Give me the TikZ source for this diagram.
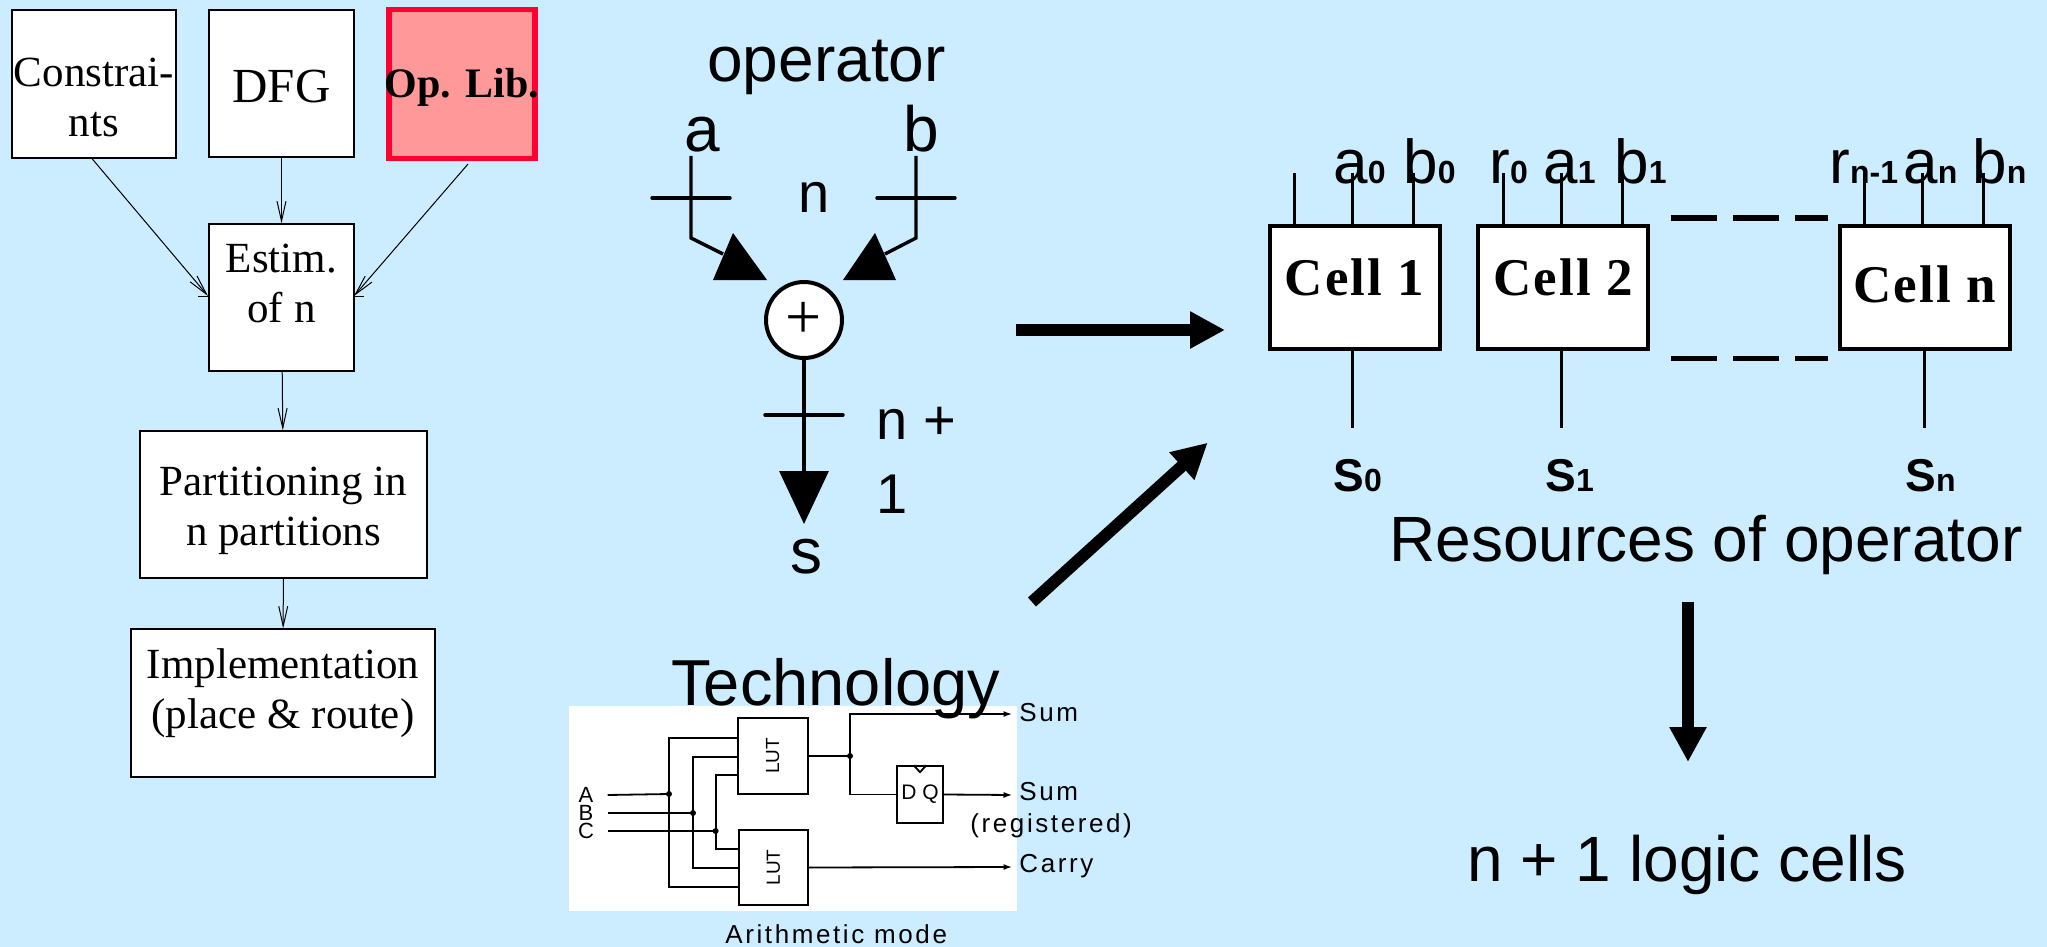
\documentclass[tikz,border=0pt]{standalone}
\usepackage{fontspec}
\usetikzlibrary{arrows.meta}
\setmainfont{Liberation Sans}
\newfontfamily\boxfont{Liberation Serif}
\newfontfamily\cellfont[LetterSpace=4]{Liberation Serif}
\newfontfamily\bookfont[LetterSpace=10]{Liberation Sans}
\definecolor{slidebg}{HTML}{CCECFF}
\definecolor{libred}{HTML}{FF0033}
\definecolor{libfill}{HTML}{FF9999}
\newcommand{\pinname}[2]{{\fontsize{31}{31}\selectfont #1}{\fontsize{16}{16}\selectfont\bfseries #2}}
\newcommand{\outname}[2]{{\fontsize{23}{24}\selectfont\bfseries #1}{\fontsize{16}{16}\selectfont\bfseries #2}}

\begin{document}
\begin{tikzpicture}[x=0.5pt,y=-0.5pt,>={Straight Barb[length=10pt,width=4.5pt]},
        flowbox/.style={draw,fill=white,line width=0.6pt,inner sep=0pt,align=center,
          font=\boxfont\fontsize{21.5}{25}\selectfont},
        cellbox/.style={draw,fill=white,line width=2pt,inner sep=0pt,align=center,
          minimum width=85pt,minimum height=61.5pt,
          font=\cellfont\bfseries\fontsize{26.5}{30}\selectfont},
        logicbox/.style={draw,line width=0.9pt,inner sep=0pt,font=\fontsize{9.5}{11}\selectfont},
        heading/.style={anchor=base west,inner sep=0pt,font=\fontsize{32}{38}\selectfont},
        pintext/.style={anchor=base west,inner sep=0pt},
        booktext/.style={anchor=base west,inner sep=0pt,font=\bookfont\fontsize{13}{15}\selectfont},
        flow/.style={->,line width=0.5pt},
        wire/.style={line width=1.7pt},
        pin/.style={line width=1.5pt},
        fine/.style={line width=0.9pt},
        fineout/.style={fine,-{Latex[length=4.5pt,width=3pt]}},
        fat/.style={line width=6pt,-{Triangle[length=17.5pt,width=17.5pt]}},
        gap/.style={line width=2.5pt,dash pattern=on 23pt off 8pt}]

  \fill[slidebg,use as bounding box] (0,0) rectangle (2047,947);

  \node[flowbox,minimum width=82pt,minimum height=74pt] (constraints) at (94,84) {Constrai-\\nts\\[-38pt]};
  \node[flowbox,minimum width=72.5pt,minimum height=73.5pt] (dfg) at (281.5,83.5) {\fontsize{24.5}{25}\selectfont DFG\\[-28pt]};
  \node[flowbox,draw=libred,fill=libfill,line width=2.75pt,minimum width=73pt,minimum height=74.3pt,
        font=\boxfont\bfseries\fontsize{21}{25}\selectfont] (oplib) at (462,84) {\makebox[0pt]{Op. Lib.}\\[-24pt]};
  \node[flowbox,minimum width=72.5pt,minimum height=73.5pt] (estim) at (281.5,297.5) {Estim.\\of n\\[-10.5pt]};
  \node[flowbox,minimum width=143.5pt,minimum height=73.5pt] (partition) at (283.5,504.5) {Partitioning in\\n partitions\\[-26.5pt]};
  \node[flowbox,minimum width=152pt,minimum height=74pt] (impl) at (283,703) {Implementation\\(place \& route)\\[-10.5pt]};

  \coordinate (estim_left) at (208,296);
  \coordinate (estim_right) at (354,296);
  \draw[flow] (constraints.south) ++(-1pt,0) -- (estim_left);
  \draw[flow] (dfg) -- (estim);
  \draw[flow] (oplib.south) ++(3pt,-1.5pt) -- (estim_right);
  \draw[flow] (estim) -- (partition);
  \draw[flow] (partition) -- (impl);
  \draw[line width=0.5pt] (estim_left) -- ++(-10,0);
  \draw[line width=0.5pt] (estim_right) -- ++(10,0);

  \node[heading] (op_title) at (707,82) {operator};
  \node[heading] (in_a) at (684,152) {a};
  \node[heading] (in_b) at (903,152) {b};
  \node[heading] (out_s) at (790,573) {s};
  \node[pintext,font=\fontsize{28}{37}\selectfont] (width_in) at (798,213) {n};
  \node[anchor=west,inner sep=0pt,align=left,font=\fontsize{28}{37}\selectfont] (width_out) at (876,460) {n +\\1};

  \node[draw,circle,fill=white,line width=2pt,inner sep=0pt,minimum size=38pt,
        font=\boxfont\fontsize{32}{32}\selectfont] (add) at (804,320) {+};

  \coordinate (a_top) at (691,156);
  \coordinate (a_bend) at (691,238);
  \coordinate (a_end) at (723,254);
  \coordinate (a_cross) at (691,198);
  \coordinate (b_top) at (916,156);
  \coordinate (b_bend) at (916,238);
  \coordinate (b_end) at (885,254);
  \coordinate (b_cross) at (916,198);
  \coordinate (s_cross) at (804,415);
  \coordinate (s_tip) at (804,524);

  \draw[wire] (a_top) -- (a_bend) -- (a_end);
  \draw[wire] (b_top) -- (b_bend) -- (b_end);
  \fill (733,233) -- (713,280) -- (767,280) -- cycle;
  \fill (875,233) -- (843,280) -- (896,280) -- cycle;
  \draw[wire,-{Triangle[length=26.5pt,width=24.5pt]}] (add.south) -- (s_tip);
  \draw[wire,line cap=round] ([xshift=-19.5pt]a_cross) -- ([xshift=19.5pt]a_cross);
  \draw[wire,line cap=round] ([xshift=-19.5pt]b_cross) -- ([xshift=19.5pt]b_cross);
  \draw[wire,line cap=round] ([xshift=-19.5pt]s_cross) -- ([xshift=19.5pt]s_cross);

  \coordinate (op_from) at (1016,330);
  \coordinate (op_to) at (1225,330);
  \coordinate (tech_from) at (1032,602);
  \coordinate (tech_to) at (1207.7,442.7);
  \coordinate (res_from) at (1688,602);
  \coordinate (res_to) at (1688,762);
  \draw[fat] (op_from) -- (op_to);
  \draw[fat] (tech_from) -- (tech_to);
  \draw[fat] (res_from) -- (res_to);

  \node[cellbox] (cell_1) at (1354.5,287) {Cell 1\\[-20pt]};
  \node[cellbox] (cell_2) at (1563,287) {Cell 2\\[-20pt]};
  \node[cellbox] (cell_n) at (1924.5,287) {Cell n\\[-27pt]};

  \draw[pin] ([xshift=-30pt]cell_1.north) -- ++(0,-50);
  \draw[pin] ([xshift=-1pt]cell_1.north) -- ++(0,-50);
  \draw[pin] ([xshift=29.5pt]cell_1.north) -- ++(0,-50);
  \draw[pin] ([xshift=-30pt]cell_2.north) -- ++(0,-50);
  \draw[pin] ([xshift=-1pt]cell_2.north) -- ++(0,-50);
  \draw[pin] ([xshift=29.5pt]cell_2.north) -- ++(0,-50);
  \draw[pin] ([xshift=-30pt]cell_n.north) -- ++(0,-50);
  \draw[pin] ([xshift=-1pt]cell_n.north) -- ++(0,-50);
  \draw[pin] ([xshift=29.5pt]cell_n.north) -- ++(0,-50);
  \draw[pin] ([xshift=-1pt]cell_1.south) -- ++(0,77);
  \draw[pin] ([xshift=-1pt]cell_2.south) -- ++(0,77);
  \draw[pin] (cell_n.south) -- ++(0,77);

  \coordinate (gap_top) at (1671,218);
  \coordinate (gap_top_end) at (1828,218);
  \coordinate (gap_bot) at (1671,358.5);
  \coordinate (gap_bot_end) at (1828,358.5);
  \draw[gap] (gap_top) -- (gap_top_end);
  \draw[gap] (gap_bot) -- (gap_bot_end);

  \node[pintext] (a_0) at (1333,184) {\pinname{a}{0}};
  \node[pintext] (b_0) at (1403,184) {\pinname{b}{0}};
  \node[pintext] (r_0) at (1489,184) {\pinname{r}{0}};
  \node[pintext] (a_1) at (1543,184) {\pinname{a}{1}};
  \node[pintext] (b_1) at (1614,184) {\pinname{b}{1}};
  \node[pintext] (r_n) at (1829,184) {\pinname{r}{n-1}};
  \node[pintext] (a_n) at (1903,184) {\pinname{a}{n}};
  \node[pintext] (b_n) at (1972,184) {\pinname{b}{n}};
  \node[pintext] (s_0) at (1333,491) {\outname{S}{0}};
  \node[pintext] (s_1) at (1545,491) {\outname{S}{1}};
  \node[pintext] (s_n) at (1905,491) {\outname{S}{n}};

  \node[heading] (res_title) at (1389,561) {Resources of operator};
  \node[heading] (result) at (1467,881) {n + 1 logic cells};

  \node[fill=white,inner sep=0pt,minimum width=223.75pt,minimum height=102.5pt] (tech_img) at (792.75,808.5) {};
  \node[heading,font=\fontsize{32.5}{38}\selectfont] (tech_title) at (671,705) {Technology};

  \node[logicbox,minimum width=35pt,minimum height=38pt] (lut_1) at (772.7,756) {\rotatebox{90}{LUT}};
  \node[logicbox,minimum width=34.5pt,minimum height=37.5pt] (lut_2) at (773.5,867.5) {\rotatebox{90}{LUT}};
  \node[logicbox,minimum width=23.3pt,minimum height=28.3pt,font=\fontsize{10.5}{12}\selectfont] (dff) at (920,794.5) {D Q};
  \draw[fine] ([xshift=-3.2pt]dff.north) -- ([yshift=-3.4pt]dff.north) -- ([xshift=3.2pt]dff.north);

  \node[inner sep=0pt,font=\fontsize{11}{12}\selectfont] (in_lut_a) at (586,795) {A};
  \node[inner sep=0pt,font=\fontsize{11}{12}\selectfont] (in_lut_b) at (586,813) {B};
  \node[inner sep=0pt,font=\fontsize{11}{12}\selectfont] (in_lut_c) at (586,831) {C};

  \coordinate (jn_a) at (669,794);
  \coordinate (jn_b) at (693,813);
  \coordinate (jn_c) at (715.6,831);
  \coordinate (lut_1_a) at (737.7,737.7);
  \coordinate (lut_1_b) at (737.7,756.7);
  \coordinate (lut_1_c) at (737.7,775);
  \coordinate (lut_2_a) at (739,887);
  \coordinate (lut_2_b) at (739,868);
  \coordinate (lut_2_c) at (739,849);
  \coordinate (tap) at (850,756);
  \coordinate (out_sum) at (1012.5,714);
  \coordinate (out_reg) at (1012.5,795);
  \coordinate (out_carry) at (1012.5,867);

  \draw[fine] ([xshift=7pt]in_lut_a.east) -- (jn_a);
  \draw[fine] ([xshift=7pt]in_lut_b.east) -- (jn_b);
  \draw[fine] ([xshift=7pt]in_lut_c.east) -- (jn_c);
  \draw[fine] (lut_1_a) -| (jn_a) |- (lut_2_a);
  \draw[fine] (lut_1_b) -| (jn_b) |- (lut_2_b);
  \draw[fine] (lut_1_c) -| (jn_c) |- (lut_2_c);
  \fill (jn_a) circle (1.5pt);
  \fill (jn_b) circle (1.5pt);
  \fill (jn_c) circle (1.5pt);
  \fill (tap) circle (1.5pt);

  \draw[fine] (lut_1.east) -- (tap);
  \draw[fineout] (tap) |- (out_sum);
  \draw[fine] (tap) |- (dff.west);
  \draw[fineout] (dff.east) -- (out_reg);
  \draw[fineout] (lut_2.east) -- (out_carry);

  \node[booktext] (sum_label) at (1019,721) {Sum};
  \node[booktext] (reg_label) at (1019,800) {Sum};
  \node[booktext] (reg_note) at (970,832) {(registered)};
  \node[booktext] (carry_label) at (1019,872) {Carry};
  \node[booktext] (mode_label) at (725,943) {Arithmetic mode};

\end{tikzpicture}
\end{document}
